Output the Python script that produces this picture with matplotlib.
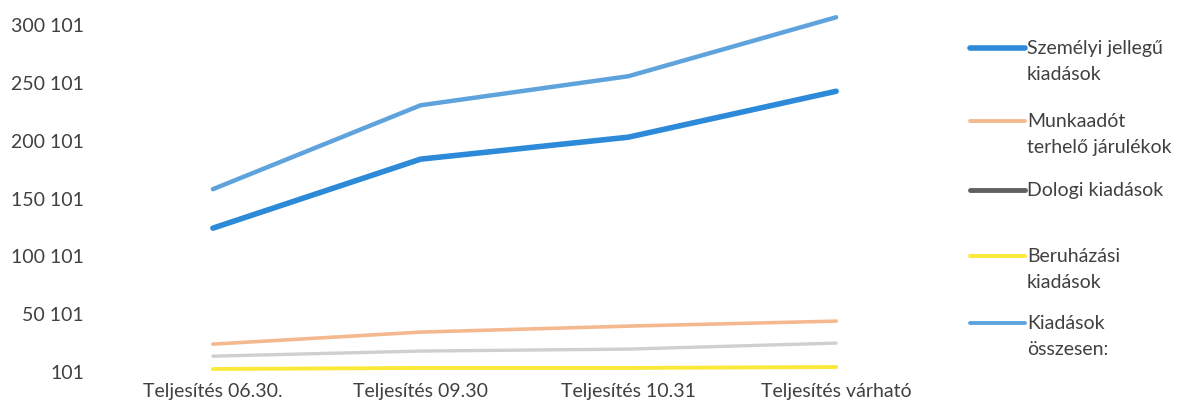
import matplotlib
matplotlib.use("Agg")
import matplotlib.pyplot as plt
from matplotlib.lines import Line2D

categories = ["Teljesítés 06.30.", "Teljesítés 09.30", "Teljesítés 10.31", "Teljesítés várható"]
szemelyi = [124500, 184200, 203200, 242900]
munkaado = [24200, 34600, 39800, 44100]
dologi = [13800, 18200, 19900, 25100]
beruhazasi = [2700, 3600, 3600, 4400]
osszesen = [158200, 230800, 255900, 306900]

series_names = ["Személyi jellegű\nkiadások", "Munkaadót\nterhelő járulékok",
                "Dologi kiadások", "Beruházási\nkiadások", "Kiadások\nösszesen:"]
yticks = [101, 50101, 100101, 150101, 200101, 250101, 300101]
ytick_labels = ["101", "50 101", "100 101", "150 101", "200 101", "250 101", "300 101"]

plt.rcParams['font.family'] = ['Lato', 'DejaVu Sans']
txt = "#404040"
fs = 14

fig = plt.figure(figsize=(11.88, 4.08), dpi=100)
ax = fig.add_axes([109/1188, 36/408, 831/1188, 370/408])

x = list(range(len(categories)))
styles = [
    (szemelyi, "#2c8ad8", 4.0),
    (munkaado, "#f5b98f", 2.6),
    (dologi, "#cfcfcf", 2.4),
    (beruhazasi, "#fbe93a", 2.8),
    (osszesen, "#5fa3dd", 3.2),
]
for i in [2, 3, 1, 4, 0]:
    vals, col, lw = styles[i]
    ax.plot(x, vals, color=col, lw=lw, solid_capstyle='round')

ax.set_xlim(-0.5, 3.5)
ax.set_ylim(101, 320101)
ax.set_yticks(yticks)
ax.set_yticklabels(ytick_labels)
ax.set_xticks(x)
ax.set_xticklabels(categories)
ax.tick_params(axis='y', length=0, pad=18, labelsize=fs, labelcolor=txt)
ax.tick_params(axis='x', length=0, pad=8, labelsize=fs, labelcolor=txt)
for s in ax.spines.values():
    s.set_visible(False)

# legend (manual, to align handles with first text line)
leg_cols = ["#2c8ad8", "#f5b98f", "#606060", "#fbe93a", "#5fa3dd"]
leg_lw = [4.0, 2.8, 3.5, 2.8, 2.8]
leg_y = [48, 121, 190, 256, 323]
for name, col, lw, yy in zip(series_names, leg_cols, leg_lw, leg_y):
    fy = 1 - yy/408
    fig.add_artist(Line2D([970/1188, 1025/1188], [fy, fy], color=col, lw=lw,
                          solid_capstyle='round', transform=fig.transFigure))
    fig.text(1027/1188, 1 - (yy-8)/408, name, ha='left', va='top', fontsize=fs,
             color=txt, linespacing=1.65)

fig.savefig("out.png", dpi=100, facecolor="white")
